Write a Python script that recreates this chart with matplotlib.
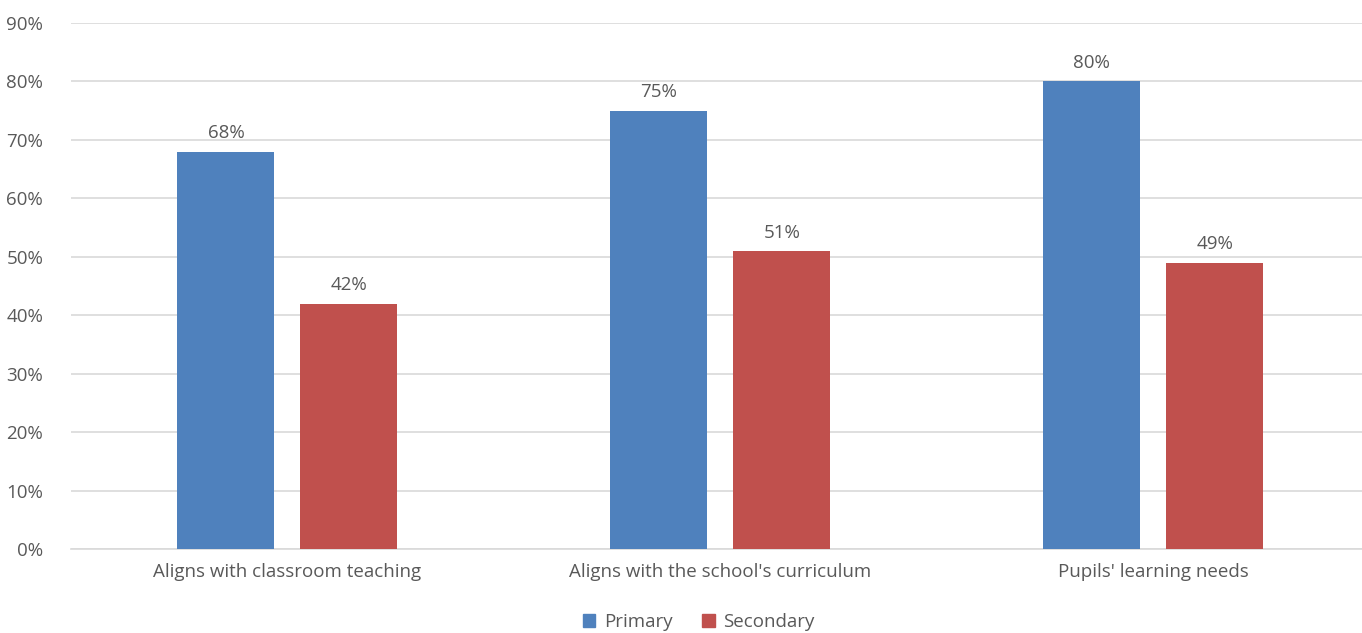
import numpy as np
import matplotlib
matplotlib.use('Agg')
import matplotlib.pyplot as plt
from matplotlib.patches import Patch

plt.rcParams['font.family'] = ['Open Sans', 'DejaVu Sans']

categories = ["Aligns with classroom teaching", "Aligns with the school's curriculum", "Pupils' learning needs"]
primary = [68, 75, 80]
secondary = [42, 51, 49]
series_names = ['Primary', 'Secondary']
colors = ['#4F81BD', '#C0504D']
text_color = '#595959'
grid_color = '#D9D9D9'

fig = plt.figure(figsize=(13.62, 6.33), dpi=100)
ax = fig.add_axes([0.0521, 0.1327, 0.9479, 0.831])

x = np.arange(len(categories))
w = 0.224
off = 0.142
b1 = ax.bar(x - off, primary, w, color=colors[0], zorder=3)
b2 = ax.bar(x + off, secondary, w, color=colors[1], zorder=3)

for bars, vals in [(b1, primary), (b2, secondary)]:
    for b, v in zip(bars, vals):
        ax.text(b.get_x() + b.get_width() / 2, v + 1.6, f'{v}%', ha='center', va='bottom',
                fontsize=13.5, color=text_color)

ax.set_ylim(0, 90)
ax.set_xlim(-0.5, 2.482)
ax.set_yticks(range(0, 91, 10))
ax.set_yticklabels([f'{t}%' for t in range(0, 91, 10)])
ax.set_xticks(x)
ax.set_xticklabels(categories)
ax.tick_params(axis='both', length=0, labelsize=13.5, colors=text_color)
ax.tick_params(axis='y', pad=20)
ax.tick_params(axis='x', pad=10)
ax.yaxis.grid(True, color=grid_color, linewidth=1.2, zorder=0)
for s in ['top', 'right', 'left']:
    ax.spines[s].set_visible(False)
ax.spines['bottom'].set_color(grid_color)
ax.spines['bottom'].set_linewidth(1.2)

handles = [Patch(color=c, label=n) for c, n in zip(colors, series_names)]
fig.legend(handles=handles, loc='center', bbox_to_anchor=(0.513, 0.017), ncol=2, frameon=False,
           fontsize=13.5, labelcolor=text_color, handlelength=0.65, handleheight=0.65,
           handletextpad=0.45, columnspacing=1.6)

fig.savefig('out.png', dpi=100)
